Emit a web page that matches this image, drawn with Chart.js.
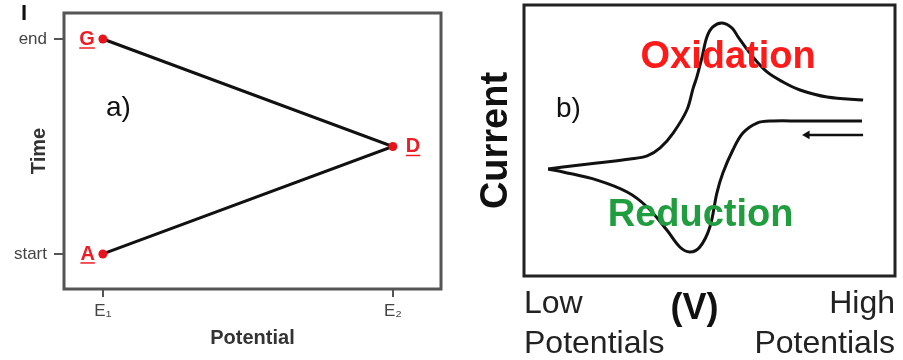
<!DOCTYPE html>
<html>
<head>
<meta charset="utf-8">
<script src="https://cdn.jsdelivr.net/npm/chart.js@4"></script>
<style>
  html, body { margin: 0; padding: 0; background: #fff; }
  #wrap { position: relative; width: 903px; height: 360px; }
  canvas { position: absolute; top: 0; }
  #chartA { left: 0; }
  #chartB { left: 450px; }
</style>
</head>
<body>
<div id="wrap">
  <canvas id="chartA" width="450" height="360"></canvas>
  <canvas id="chartB" width="453" height="360"></canvas>
</div>
<script>
// a) potential waveform
var waveLabels = ['A', 'D', 'G'];
var wavePotential = [0, 1, 0];
var waveTime = [0, 0.5, 1];
var potentialTicks = ['E\u2081', 'E\u2082'];
var timeTicks = ['start', 'end'];

// b) voltammogram (potential 0-100, current -100..100)
var forwardPotential = [6.5, 10.5, 19.7, 28.6, 33.2, 36.7, 40.2, 43.9, 45.6, 46.6, 48.0, 49.3, 50.9, 53.4, 56.1, 57.7, 61.7, 65.5, 69.8, 74.4, 81.7, 91.4];
var forwardCurrent = [-21.0, -19.6, -16.6, -13.7, -11.4, -5.5, 5.5, 22.5, 38.7, 46.9, 61.6, 76.4, 83.8, 86.7, 83.0, 76.4, 61.6, 50.6, 43.2, 37.3, 32.1, 29.9];
var reversePotential = [91.1, 74.4, 67.1, 62.8, 59.0, 56.3, 53.6, 52.0, 50.1, 47.4, 44.7, 42.0, 38.5, 33.2, 27.8, 19.7, 10.5, 6.5];
var reverseCurrent = [14.4, 14.4, 14.4, 12.9, 5.5, -7.0, -24.0, -38.7, -63.8, -78.6, -82.3, -78.6, -66.1, -49.1, -38.0, -29.2, -23.2, -21.0];
var arrowPotential = [91.4, 76.3];
var arrowCurrent = [4.1, 4.1];
var sweepTicks = [['Low', 'Potentials'], ['High', 'Potentials']];

Chart.defaults.font.family = '"Liberation Sans", Arial, sans-serif';

function pairs(xs, ys) {
  return xs.map(function (x, i) { return { x: x, y: ys[i] }; });
}

// draws the box round the plot area
var framePlugin = {
  id: 'frame',
  beforeDatasetsDraw: function (chart, args, opts) {
    var a = chart.chartArea, ctx = chart.ctx;
    ctx.save();
    ctx.strokeStyle = opts.color;
    ctx.lineWidth = opts.width;
    ctx.strokeRect(a.left, a.top, a.right - a.left, a.bottom - a.top);
    ctx.restore();
  }
};

var notesA = {
  id: 'notesA',
  afterDatasetsDraw: function (chart) {
    var ctx = chart.ctx;
    var meta = chart.getDatasetMeta(0);
    ctx.save();
    ctx.font = 'bold 20px "Liberation Sans", Arial, sans-serif';
    ctx.fillStyle = '#ee1c24';
    ctx.strokeStyle = '#ee1c24';
    ctx.lineWidth = 1.5;
    ctx.textBaseline = 'alphabetic';
    meta.data.forEach(function (pt, i) {
      var txt = waveLabels[i];
      var w = ctx.measureText(txt).width;
      var onRight = wavePotential[i] === 1;
      var x = onRight ? pt.x + 13 : pt.x - 8 - w;
      var y = pt.y + 6;
      ctx.fillText(txt, x, y);
      ctx.beginPath();
      ctx.moveTo(x, y + 3);
      ctx.lineTo(x + w, y + 3);
      ctx.stroke();
    });
    ctx.fillStyle = '#111';
    ctx.font = '28px "Liberation Sans", Arial, sans-serif';
    ctx.textBaseline = 'middle';
    ctx.fillText('a)', 106, 108);
    ctx.font = 'bold 22px "Liberation Sans", Arial, sans-serif';
    ctx.fillText('I', 21, 14);
    ctx.restore();
  }
};

var notesB = {
  id: 'notesB',
  afterDatasetsDraw: function (chart) {
    var ctx = chart.ctx;
    var xs = chart.scales.x, ys = chart.scales.y;
    ctx.save();
    ctx.textAlign = 'center';
    ctx.textBaseline = 'middle';
    ctx.font = 'bold 38px "Liberation Sans", Arial, sans-serif';
    ctx.fillStyle = '#ff1a1a';
    ctx.fillText('Oxidation', xs.getPixelForValue(55), ys.getPixelForValue(61));
    ctx.fillStyle = '#1f9d3f';
    ctx.fillText('Reduction', xs.getPixelForValue(47.6), ys.getPixelForValue(-55));
    ctx.textAlign = 'left';
    ctx.fillStyle = '#111';
    ctx.font = '28px "Liberation Sans", Arial, sans-serif';
    ctx.fillText('b)', 106, 109);
    ctx.restore();
  }
};

new Chart(document.getElementById('chartA'), {
  type: 'scatter',
  data: {
    datasets: [{
      data: pairs(wavePotential, waveTime),
      showLine: true,
      borderColor: '#111',
      borderWidth: 3,
      pointRadius: 4.5,
      pointBackgroundColor: '#e8141c',
      pointBorderWidth: 0,
      clip: false
    }]
  },
  options: {
    responsive: false,
    animation: false,
    layout: { padding: { top: 13, right: 9, left: 0, bottom: 0 } },
    plugins: {
      legend: { display: false },
      tooltip: { enabled: false },
      frame: { color: '#555', width: 3 }
    },
    scales: {
      x: {
        type: 'linear',
        min: -0.134,
        max: 1.166,
        afterFit: function (s) { s.height = 71; s.paddingLeft = 0; s.paddingRight = 0; },
        afterBuildTicks: function (s) { s.ticks = [{ value: 0 }, { value: 1 }]; },
        ticks: {
          color: '#444',
          padding: 4,
          font: { size: 17 },
          callback: function (v) { return potentialTicks[v]; }
        },
        grid: { drawOnChartArea: false, tickLength: 8, color: '#555', lineWidth: 2 },
        border: { display: false },
        title: {
          display: true,
          text: 'Potential',
          color: '#333',
          font: { size: 20, weight: 'bold' },
          padding: { top: 0, bottom: 10 }
        }
      },
      y: {
        type: 'linear',
        min: -0.163,
        max: 1.121,
        afterFit: function (s) { s.width = 64; s.paddingTop = 0; s.paddingBottom = 0; },
        afterBuildTicks: function (s) { s.ticks = [{ value: 0 }, { value: 1 }]; },
        ticks: {
          color: '#444',
          padding: 7,
          font: { size: 17 },
          callback: function (v) { return timeTicks[v]; }
        },
        grid: { drawOnChartArea: false, tickLength: 10, color: '#555', lineWidth: 2 },
        border: { display: false },
        title: {
          display: true,
          text: 'Time',
          color: '#333',
          font: { size: 20, weight: 'bold' },
          padding: { top: 27, bottom: 0 }
        }
      }
    }
  },
  plugins: [framePlugin, notesA]
});

new Chart(document.getElementById('chartB'), {
  type: 'scatter',
  data: {
    datasets: [{
      data: pairs(forwardPotential, forwardCurrent),
      showLine: true,
      tension: 0.35,
      borderColor: '#111',
      borderWidth: 3,
      pointRadius: 0
    }, {
      data: pairs(reversePotential, reverseCurrent),
      showLine: true,
      tension: 0.35,
      borderColor: '#111',
      borderWidth: 3,
      pointRadius: 0
    }, {
      data: pairs(arrowPotential, arrowCurrent),
      showLine: true,
      borderColor: '#111',
      borderWidth: 2.5,
      pointStyle: 'triangle',
      pointRotation: -90,
      pointRadius: [0, 5],
      pointBackgroundColor: '#111',
      pointBorderWidth: 0
    }]
  },
  options: {
    responsive: false,
    animation: false,
    layout: { padding: { top: 5, right: 8, left: 0, bottom: 0 } },
    plugins: {
      legend: { display: false },
      tooltip: { enabled: false },
      frame: { color: '#222', width: 3 }
    },
    scales: {
      x: {
        type: 'linear',
        min: 0,
        max: 100,
        afterFit: function (s) { s.height = 84; s.paddingLeft = 0; s.paddingRight = 0; },
        afterBuildTicks: function (s) { s.ticks = [{ value: 0 }, { value: 100 }]; },
        ticks: {
          color: '#222',
          align: 'inner',
          padding: 8,
          font: { size: 32, lineHeight: 1.25 },
          callback: function (v) { return v === 0 ? sweepTicks[0] : sweepTicks[1]; }
        },
        grid: { display: false, drawTicks: false },
        border: { display: false },
        title: {
          display: true,
          text: '(V)   ',
          color: '#111',
          font: { size: 36, weight: 'bold' },
          padding: { top: 0, bottom: 29 }
        }
      },
      y: {
        type: 'linear',
        min: -100,
        max: 100,
        afterFit: function (s) { s.width = 74; },
        ticks: { display: false },
        grid: { display: false, drawTicks: false },
        border: { display: false },
        title: {
          display: true,
          text: 'Current',
          color: '#111',
          font: { size: 38, weight: 'bold' },
          padding: { top: 24, bottom: 0 }
        }
      }
    }
  },
  plugins: [framePlugin, notesB]
});
</script>
</body>
</html>
